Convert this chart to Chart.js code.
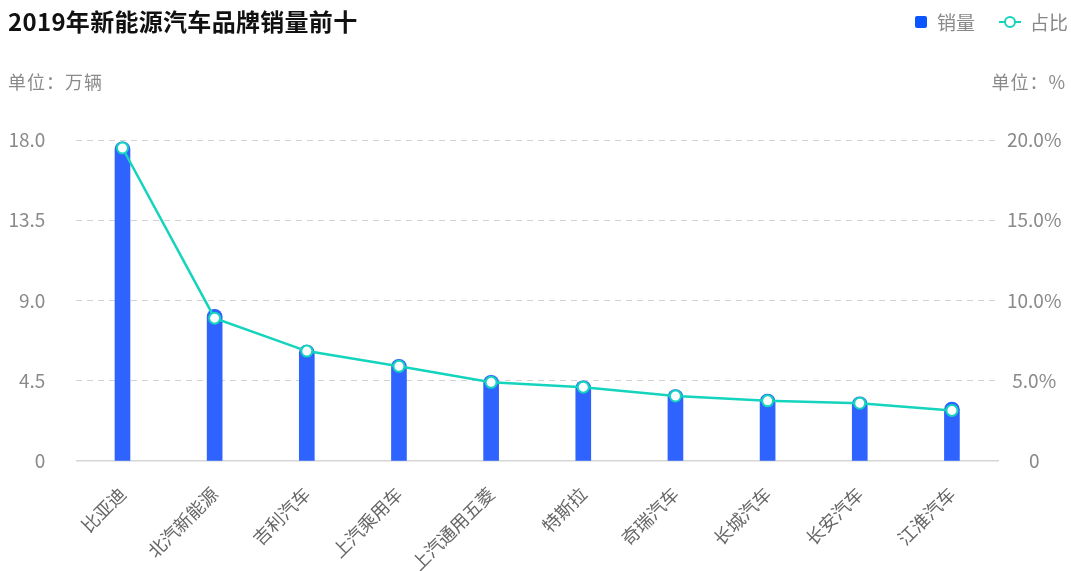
<!DOCTYPE html>
<html>
<head>
<meta charset="utf-8">
<script src="https://cdn.jsdelivr.net/npm/chart.js@4.4.1/dist/chart.umd.min.js"></script>
<style>
  body { margin: 0; background: #fff; font-family: "Noto Sans CJK SC", "Noto Sans", sans-serif; }
  #wrap { position: relative; width: 1071px; height: 571px; }
  .txt { position: absolute; white-space: nowrap; line-height: 1; }
  #titre { left: 8px; top: 9px; font-size: 24px; font-weight: 700; color: #111; letter-spacing: 0.3px; }
  #uniteG { left: 8px; top: 72px; font-size: 18px; color: #8a8a8a; letter-spacing: 1px; }
  #uniteD { right: 5px; top: 72px; font-size: 18px; color: #8a8a8a; letter-spacing: 1px; }
  .leg { top: 12px; font-size: 19px; color: #888; }
  #carre { position: absolute; left: 915px; top: 16px; width: 12px; height: 12px; border-radius: 2px; background: #0a55ff; }
  #trait { position: absolute; left: 999px; top: 21px; width: 22px; height: 2px; background: #14d4bd; }
  #rond { position: absolute; left: 1004px; top: 16px; width: 8px; height: 8px; border-radius: 50%; border: 2px solid #14d4bd; background: #fff; }
</style>
</head>
<body>
<div id="wrap">
  <canvas id="graphique"></canvas>
  <div class="txt" id="titre">2019年新能源汽车品牌销量前十</div>
  <div class="txt" id="uniteG">单位：万辆</div>
  <div class="txt" id="uniteD">单位：%</div>
  <div id="carre"></div>
  <div class="txt leg" style="left:937px">销量</div>
  <div id="trait"></div>
  <div id="rond"></div>
  <div class="txt leg" style="left:1030px">占比</div>
</div>
<script>
  // données
  const marques = ['比亚迪', '北汽新能源', '吉利汽车', '上汽乘用车', '上汽通用五菱', '特斯拉', '奇瑞汽车', '长城汽车', '长安汽车', '江淮汽车'];
  const ventes = [17.9, 8.5, 6.5, 5.7, 4.8, 4.5, 4.0, 3.75, 3.6, 3.3];
  const parts = [19.5, 8.9, 6.85, 5.9, 4.9, 4.6, 4.05, 3.75, 3.6, 3.15];
  const ticksGauche = ['0', '4.5', '9.0', '13.5', '18.0'];
  const ticksDroite = ['0', '5.0%', '10.0%', '15.0%', '20.0%'];

  const bleu = '#2e63ff';
  const turquoise = '#14d4bd';
  const gris = '#8a8a8a';
  const police = '"Noto Sans CJK SC", "Noto Sans", sans-serif';

  const data = {
    labels: marques,
    datasets: [{
      type: 'line',
      label: '占比',
      data: parts,
      yAxisID: 'y1',
      borderColor: turquoise,
      borderWidth: 2.5,
      backgroundColor: '#fff',
      pointBackgroundColor: '#fff',
      pointBorderColor: turquoise,
      pointBorderWidth: 2,
      pointRadius: 5.5,
      tension: 0,
      order: 0
    }, {
      type: 'bar',
      label: '销量',
      data: ventes,
      yAxisID: 'y',
      backgroundColor: bleu,
      barThickness: 15,
      borderRadius: { topLeft: 7.5, topRight: 7.5, bottomLeft: 0, bottomRight: 0 },
      borderSkipped: false,
      order: 1
    }]
  };

  const config = {
    data,
    options: {
      responsive: true,
      maintainAspectRatio: false,
      animation: false,
      layout: { padding: { top: 140, left: 0, right: 2, bottom: 0 } },
      plugins: {
        legend: { display: false },
        tooltip: { enabled: false }
      },
      scales: {
        x: {
          offset: true,
          grid: { display: false },
          border: { display: true, color: '#d6d6d6', width: 1.5 },
          ticks: {
            color: '#666',
            font: { family: police, size: 18 },
            minRotation: 45,
            maxRotation: 45,
            padding: 14,
            autoSkip: false
          },
          afterFit: (s) => { s.height = 110; }
        },
        y: {
          position: 'left',
          min: 0,
          max: 18,
          ticks: {
            stepSize: 4.5,
            color: gris,
            padding: 31,
            font: { family: police, size: 19 },
            callback: (v, i) => ticksGauche[i]
          },
          grid: {
            drawTicks: false,
            color: (c) => c.tick && c.tick.value === 0 ? 'rgba(0,0,0,0)' : '#d2d2d2',
            lineWidth: 1
          },
          border: { display: false, dash: [6, 5] },
          afterFit: (s) => { s.width = 76.4; }
        },
        y1: {
          position: 'right',
          min: 0,
          max: 20,
          ticks: {
            stepSize: 5,
            color: gris,
            padding: 9,
            crossAlign: 'center',
            font: { family: police, size: 19 },
            callback: (v, i) => ticksDroite[i]
          },
          grid: { display: false, drawTicks: false },
          border: { display: false },
          afterFit: (s) => { s.width = 71; }
        }
      }
    }
  };

  const monGraphique = new Chart(document.getElementById('graphique'), config);
</script>
</body>
</html>
